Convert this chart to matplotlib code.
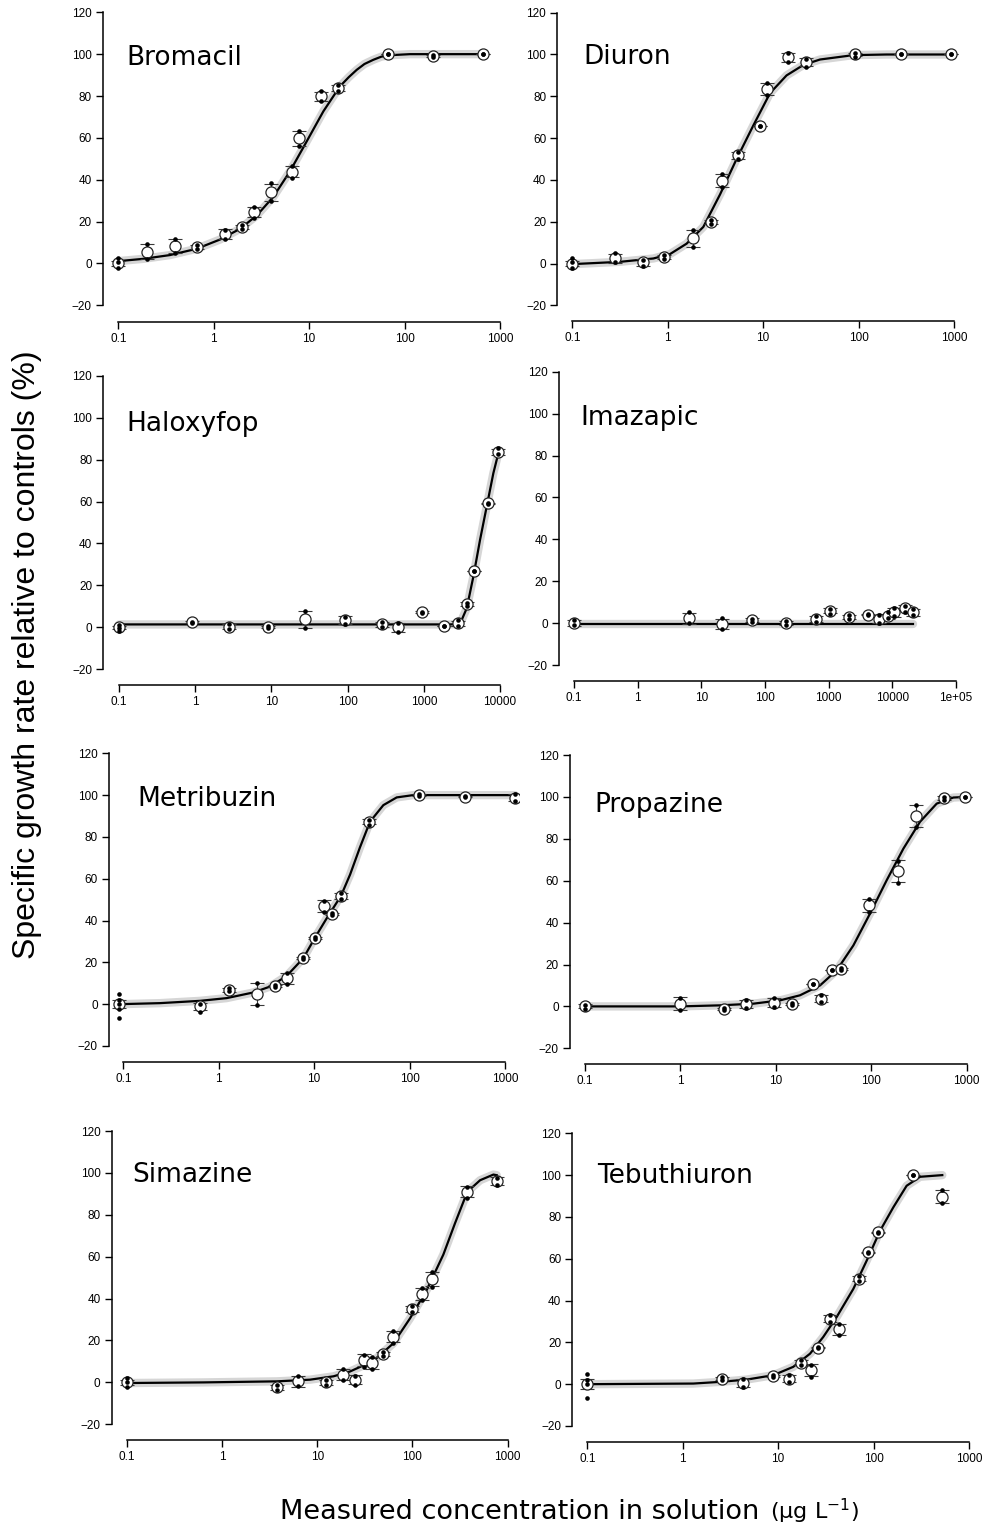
import matplotlib
matplotlib.use("Agg")
import matplotlib.pyplot as plt
import numpy as np
from matplotlib.ticker import NullLocator

W, H = 982, 1526

# ---- data (concentration in ug/L, growth rate in % of controls)
bromacil_conc = [0.1, 0.2, 0.39, 0.66, 1.31, 1.96, 2.66, 3.95, 6.67, 7.9, 13.2, 19.9, 66.5, 197, 658]
bromacil_mean = [0, 5.6, 8.3, 7.8, 14.1, 17.5, 24.6, 34, 43.9, 59.8, 79.8, 83.8, 100, 99.2, 100]
bromacil_reps = [[2.5, 0.5, -2.2], [9.1, 1.9], [11.8, 4.8], [8.7, 6.8], [16.2, 11.8], [18.3, 16.5],
                 [27, 21.8], [38.3, 30], [46.4, 40.9], [63.4, 56], [82.2, 77.7], [85.4, 82.2],
                 [100, 100], [99.7, 98.6], [100, 100]]
bromacil_curve_x = [0.1, 0.183, 0.348, 0.662, 1.16, 1.88, 2.82, 4.21, 6.29, 9.42, 14.1, 21.0,
                    26.0, 31.5, 38.0, 47.0, 57.0, 70.3, 114, 658]
bromacil_curve_y = [1.1, 2.2, 4.0, 7.0, 11.4, 16.5, 22.9, 31.8, 44.0, 58.3, 72.7, 84.6,
                    89.0, 92.5, 95.3, 97.3, 98.8, 99.5, 100, 100]

diuron_conc = [0.1, 0.28, 0.555, 0.92, 1.82, 2.82, 3.67, 5.5, 9.27, 11.1, 18.4, 27.9, 91.6, 278, 923]
diuron_mean = [0, 2.4, 0.5, 3.2, 12, 19.9, 39.6, 51.8, 65.7, 83.4, 98.6, 96.5, 100, 100, 100]
diuron_reps = [[2.5, 0.5, -2], [4.8, 0.5], [1.9, -1.1], [4.3, 2.1], [16, 7.7], [21, 18.8],
               [42.7, 36.4], [53.4, 49.9], [65.7, 65.7], [86.4, 80.5], [100.5, 96.5],
               [97.7, 94.1], [100.8, 98.9], [100, 100], [100, 100]]
diuron_curve_x = [0.1, 0.316, 0.707, 1.056, 1.578, 2.36, 3.53, 5.27, 7.88, 11.8, 17.6, 26.4,
                  39.4, 88.1, 197, 923]
diuron_curve_y = [-0.3, 0.8, 2.4, 4.5, 9.5, 17.5, 33, 50, 66, 81.5, 90, 95, 97.6, 99.7, 100, 100]

haloxyfop_conc = [0.1, 0.917, 2.78, 9.12, 27.6, 92.5, 280, 463, 938, 1860, 2780, 3650, 4600, 7030, 9320]
haloxyfop_mean = [0, 2.4, 0.3, 0.3, 3.8, 3.5, 1.4, 0, 7.2, 0.8, 1.9, 11.1, 27, 59.1, 83.8]
haloxyfop_reps = [[1, -0.5, -1.6], [2.7, 1.9], [1.6, -0.8], [0.8, -0.2], [7.9, -0.2], [5.1, 1.4],
                  [2.7, 0.3], [1.9, -2.1], [7.5, 6.7], [0.8, 0.8], [3.5, 0.8], [11.8, 10.2],
                  [27, 27], [59.5, 58.8], [85.4, 82.5]]
haloxyfop_curve_x = [0.1, 2210, 2700, 3140, 3660, 4470, 5470, 6690, 8180, 9510]
haloxyfop_curve_y = [1.4, 1.4, 1.5, 3.5, 9.1, 24.2, 41.7, 57.6, 73.5, 83]

imazapic_conc = [0.1, 6.4, 21.4, 63.3, 211, 625, 1050, 2110, 4200, 6250, 8450, 10600, 15800, 21400]
imazapic_mean = [0, 2.4, -0.5, 1.4, 0, 2.1, 5.9, 2.9, 4.0, 2.1, 3.2, 5.1, 7.2, 5.1]
imazapic_reps = [[1.6, -1.1], [5.3, 0], [2.2, -2.7], [2.1, 0.5], [0.8, -0.8], [3.5, 0.5],
                 [6.7, 4.5], [3.7, 2.1], [4.3, 3.7], [4.0, 0], [5.1, 2.4], [7.2, 3.2],
                 [8.3, 5.1], [6.8, 3.8]]
imazapic_curve_x = [0.1, 21400]
imazapic_curve_y = [-0.2, -0.2]

metribuzin_conc = [0.091, 0.637, 1.28, 2.54, 3.89, 5.15, 7.7, 10.2, 12.8, 15.3, 19.1, 37.8, 125, 381, 1270]
metribuzin_mean = [0, -1.1, 6.8, 4.9, 8.8, 12.4, 22, 31.8, 47.1, 43, 51.8, 87.3, 100, 99.2, 98.7]
metribuzin_reps = [[4.9, 2.1, 0, -2.4, -6.7], [0.2, -3.5], [7.6, 6.1], [10, -0.3], [9.2, 8.1],
                   [14.8, 9.6], [22.5, 21.5], [32.3, 31.2], [49.5, 43.9], [43.5, 42.7],
                   [53, 50.2], [88, 85.7], [100.5, 99.5], [99.5, 98.9], [100.3, 97.1]]
metribuzin_curve_x = [0.091, 0.242, 0.637, 1.21, 2.30, 3.44, 5.15, 7.70, 10.2, 13.5, 19.1, 23.8,
                      30.2, 38.5, 53.1, 73.3, 109, 1270]
metribuzin_curve_y = [0, 0.5, 1.6, 2.9, 5.6, 8.4, 13.5, 22, 31.8, 41, 51.8, 62,
                      75, 87.3, 95.2, 98.9, 100, 100]

propazine_conc = [0.1, 0.99, 2.88, 4.86, 9.64, 14.6, 24.3, 29.7, 38.5, 48.2, 95.5, 192, 292, 578, 962]
propazine_mean = [0, 1.3, -1.4, 1, 1.8, 1.3, 10.8, 3.7, 17.2, 18, 48.2, 64.5, 90.8, 99.5, 100]
propazine_reps = [[0.8, -1.1], [4, -1.9], [-0.8, -1.9], [2.9, -0.8], [4, -0.3], [1.8, 0.8],
                  [10.8, 10.8], [5.3, 2.1], [17.2, 17.2], [18.3, 17.5], [51.1, 45.1],
                  [69.4, 59.1], [96, 85.7], [100, 98.4], [100, 100]]
propazine_curve_x = [0.1, 0.99, 2.60, 5.81, 11.1, 17.9, 29.0, 43.4, 64.9, 97.0, 145, 217,
                     324, 485, 725, 1000]
propazine_curve_y = [0, 0, 0.5, 1.3, 2.9, 5.3, 10, 17.2, 29.1, 44.3, 60.2, 75.3,
                     88.1, 96.8, 99.7, 100]

simazine_conc = [0.1, 3.76, 6.24, 12.3, 18.8, 25, 31, 37.3, 49.5, 62.1, 99.8, 125, 162, 377, 767]
simazine_mean = [0, -2.4, 0.5, 0, 3.7, 1.3, 10.5, 9.2, 13.5, 21.9, 34.9, 42.2, 49.2, 91, 96]
simazine_reps = [[2.1, 0, -2.4], [-1.1, -3.8], [3.2, -1.9], [1.3, -1.4], [6.3, 1], [3.2, -1.1],
                 [13, 7.3], [12.1, 6.5], [14.4, 12.4], [24.3, 19], [36.5, 33.5], [44.9, 39.4],
                 [52.5, 45.7], [93.3, 88.1], [97.8, 94.1]]
simazine_curve_x = [0.1, 0.638, 3.76, 8.41, 14.8, 22.1, 30.5, 42.1, 63.1, 94.4, 141, 211,
                    280, 377, 513, 708, 767]
simazine_curve_y = [-0.3, 0, 0.5, 1.3, 2.9, 5.2, 8.1, 11.6, 18.7, 30.6, 44.1, 61,
                    76, 91, 96.5, 99.2, 98.9]

tebuthiuron_conc = [0.1, 2.60, 4.31, 8.75, 13.1, 17.4, 21.9, 26, 34.9, 43.8, 70.3, 86.7, 112, 261, 525]
tebuthiuron_mean = [0, 2.7, 0.6, 3.8, 2.7, 10.3, 6.7, 17.5, 31.3, 26.2, 50.4, 63.1, 72.7, 100, 89.7]
tebuthiuron_reps = [[4.8, 2.2, 0, -6.5], [3.2, 1.9], [2.7, -1.3], [4.3, 3.2], [4.3, 1.1],
                    [11.4, 9.1], [9.4, 3.5], [17.8, 17.2], [32.9, 29.7], [28.6, 23.4],
                    [51.7, 49.3], [63.4, 62.8], [73, 72.4], [100, 100], [92.9, 86.6]]
tebuthiuron_curve_x = [0.1, 1.29, 2.45, 4.67, 8.90, 14.4, 21.6, 29.7, 41.0, 61.4, 84.7, 117,
                       161, 222, 307, 525]
tebuthiuron_curve_y = [0, 0.3, 1.1, 2.2, 4.3, 8.3, 14.6, 22.6, 32.1, 45.6, 59.1, 73.4,
                       84.6, 94.9, 99.2, 100]

names = ["Bromacil", "Diuron", "Haloxyfop", "Imazapic",
         "Metribuzin", "Propazine", "Simazine", "Tebuthiuron"]
last_decade = [3, 3, 4, 5, 3, 3, 3, 3]
y_ticks = [-20, 0, 20, 40, 60, 80, 100, 120]

panels = [
    (bromacil_conc, bromacil_mean, bromacil_reps, bromacil_curve_x, bromacil_curve_y),
    (diuron_conc, diuron_mean, diuron_reps, diuron_curve_x, diuron_curve_y),
    (haloxyfop_conc, haloxyfop_mean, haloxyfop_reps, haloxyfop_curve_x, haloxyfop_curve_y),
    (imazapic_conc, imazapic_mean, imazapic_reps, imazapic_curve_x, imazapic_curve_y),
    (metribuzin_conc, metribuzin_mean, metribuzin_reps, metribuzin_curve_x, metribuzin_curve_y),
    (propazine_conc, propazine_mean, propazine_reps, propazine_curve_x, propazine_curve_y),
    (simazine_conc, simazine_mean, simazine_reps, simazine_curve_x, simazine_curve_y),
    (tebuthiuron_conc, tebuthiuron_mean, tebuthiuron_reps, tebuthiuron_curve_x, tebuthiuron_curve_y),
]

# ---- layout in pixels: y-axis x, y of 120, y of -20, x-axis y, x of 0.1, x of last tick
frames = [
    (103, 12.3, 305.3, 321.5, 118.3, 500),
    (557.3, 12.7, 305.3, 320.7, 572.3, 954),
    (103.3, 375.7, 669.3, 685, 119, 500),
    (559, 371.7, 665, 681, 574, 956),
    (109, 753.3, 1046, 1062, 123.3, 505),
    (570, 755, 1048.3, 1064, 585, 966.7),
    (111.7, 1131, 1424.3, 1440, 126.7, 507.7),
    (572.3, 1133.3, 1426, 1441.7, 587.3, 969),
]
# title left x and baseline y in pixels
title_pos = [(126, 65), (583, 64.3), (126.5, 430.7), (580, 425),
             (137.5, 806), (594, 811.7), (132, 1181.7), (597, 1183.3)]


def label_for(d):
    if d == -1:
        return "0.1"
    if d == 5:
        return "1e+05"
    return str(10 ** d)


fig = plt.figure(figsize=(W / 100, H / 100), dpi=100)

for i, (name, (conc, mean, reps, cx, cy)) in enumerate(zip(names, panels)):
    ax_x, y120, ym20, xax_y, x0, x1 = frames[i]
    ld = last_decade[i]
    left = ax_x
    right = x1 + (x0 - ax_x)
    bottom = xax_y
    top = y120 - (xax_y - ym20)
    ax = fig.add_axes([left / W, 1 - bottom / H, (right - left) / W, (bottom - top) / H])

    ppd = (x1 - x0) / (ld + 1)
    ax.set_xscale("log")
    ax.set_xlim(10 ** (-1 - (x0 - left) / ppd), 10 ** (ld + (right - x1) / ppd))
    ppu = (ym20 - y120) / 140.0
    ax.set_ylim(-20 - (bottom - ym20) / ppu, 120 + (y120 - top) / ppu)

    # fitted curve with its light confidence band
    ax.plot(cx, cy, color="#d6d6d6", lw=6, solid_capstyle="round", zorder=1)
    ax.plot(cx, cy, color="black", lw=1.6, zorder=2)

    se = [np.std(r, ddof=1) / np.sqrt(len(r)) for r in reps]
    ax.errorbar(conc, mean, yerr=se, fmt="none", ecolor="#3a3a3a", elinewidth=0.8,
                capsize=5, capthick=0.8, zorder=3)
    ax.plot(conc, mean, "o", ms=8, mfc="white", mec="#222222", mew=0.9, zorder=4)
    rx = [c for c, r in zip(conc, reps) for _ in r]
    ry = [v for r in reps for v in r]
    ax.plot(rx, ry, "o", ms=3.3, color="black", mew=0, zorder=5)

    decades = list(range(-1, ld + 1))
    ax.set_xticks([10.0 ** d for d in decades])
    ax.set_xticklabels([label_for(d) for d in decades])
    ax.xaxis.set_minor_locator(NullLocator())
    ax.set_yticks(y_ticks)

    for s in ("top", "right"):
        ax.spines[s].set_visible(False)
    ax.spines["left"].set_bounds(-20, 120)
    ax.spines["bottom"].set_bounds(0.1, 10.0 ** ld)
    for s in ("left", "bottom"):
        ax.spines[s].set_linewidth(1.1)
    ax.tick_params(length=5, width=1.0, labelsize=8.5, pad=3)
    for lab in ax.get_xticklabels() + ax.get_yticklabels():
        lab.set_fontfamily("Liberation Sans")
    ax.patch.set_alpha(0)

    tx, ty = title_pos[i]
    fig.text(tx / W, 1 - ty / H, name, fontsize=19, family="DejaVu Sans",
             ha="left", va="baseline")

fig.text(27 / W, 1 - 655 / H, "Specific growth rate relative to controls (%)",
         rotation=90, fontsize=23, family="Liberation Sans", ha="center", va="center")
fig.text(280 / W, 1 - 1519 / H, "Measured concentration in solution",
         fontsize=19.5, family="DejaVu Sans", ha="left", va="baseline")
fig.text(770 / W, 1 - 1519 / H, r"(µg L$^{\mathregular{-1}}$)",
         fontsize=16, family="DejaVu Sans", ha="left", va="baseline")

fig.savefig("out.png", dpi=100)
